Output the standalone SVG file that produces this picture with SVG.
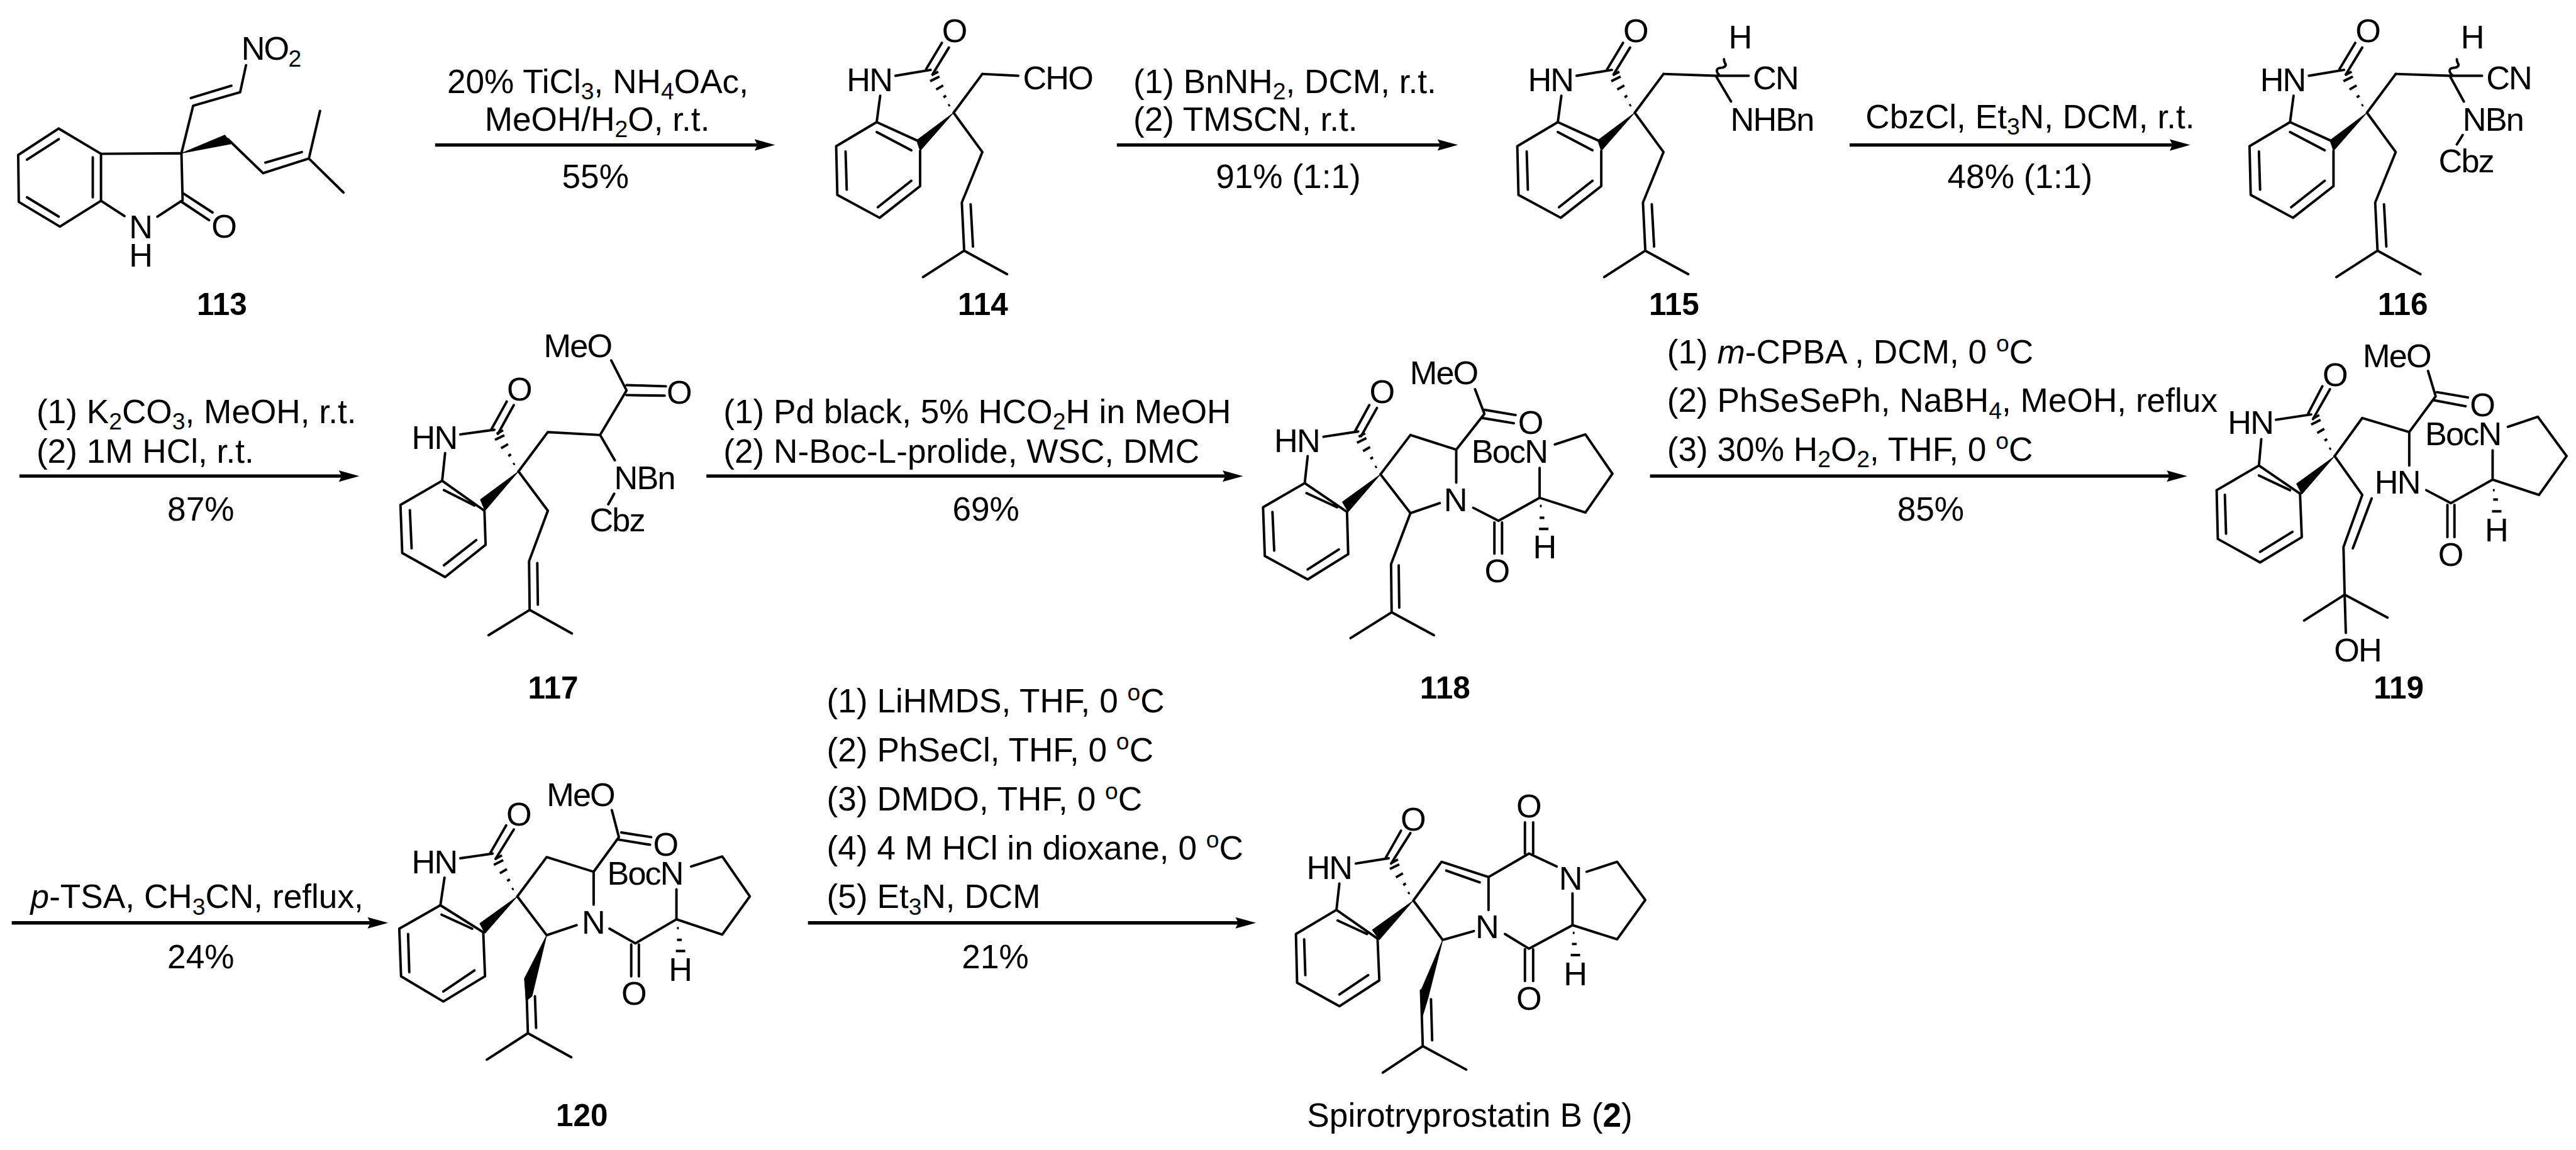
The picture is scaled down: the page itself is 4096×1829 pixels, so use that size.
<svg xmlns="http://www.w3.org/2000/svg" xmlns:xlink="http://www.w3.org/1999/xlink" width="4096" height="1829" viewBox="0 0 4096 1829">
<style>
text{font-family:"Liberation Sans",Arial,sans-serif;fill:#000}
.a{font-size:56px;letter-spacing:-2px}
.m{font-size:56px;text-anchor:middle}
.r{font-size:57px}
.c{font-size:57px;text-anchor:middle}
.n{font-size:53px;font-weight:bold;text-anchor:middle}
.s{font-size:40px;letter-spacing:0}
.b{fill:none;stroke:#000;stroke-width:4.2;stroke-linejoin:round;stroke-linecap:round}
.h{fill:none;stroke:#000;stroke-width:4.2}
.w{fill:#000;stroke:#000;stroke-width:1;stroke-linejoin:round}
.ar{fill:none;stroke:#000;stroke-width:5.7;marker-end:url(#arr)}
</style>
<defs>
<marker id="arr" markerUnits="userSpaceOnUse" markerWidth="40" markerHeight="24" viewBox="0 -12 40 24" refX="5" refY="0" orient="auto"><path d="M0-9.7L35 0L0 9.7L5 0Z" fill="#000"/></marker>
<path id="hash" class="h" d="M-9-11.9L-6.4-13.5M-17.2-26.2L-12.8-29.2M-29.7-39.5L-17.7-46.5M-40-53.7L-24-61.7M-37.2-64L-26.2-70"/>
<path id="wavy" class="b" d="M0 0c-3-3-5-6-4-9c1-4 6-3 10-4c5-2 6-4 4-7c-2-3-2-4-2-7"/>
<g id="core">
<path class="b" d="M2727 257L2727 317L2658 371L2586 332L2584 249L2653 208L2721 239M2653 225L2712 256M2600 258L2602 323M2712 308L2655 353"/>
<path class="b" d="M2659 163L2653 208M2685 129L2745 119M2737 118L2764 73M2748 127L2776 81"/>
<path class="b" d="M2833 126L2784 192L2833 259L2798 345L2802 427L2732 472M2802 427L2875 467M2813 348L2817 420"/>
<polygon class="w" points="2784,192 2721,239 2727,257"/>
<use xlink:href="#hash" href="#hash" transform="translate(2784 192)"/>
<text class="a" x="2602" y="155">HN</text>
<text class="m" x="2786" y="72">O</text>
</g>
</defs>
<g transform="scale(0.93367)">

<g id="connectors">
<path class="ar" d="M741 247H1290"/>
<path class="ar" d="M1902 247H2453"/>
<path class="ar" d="M3150 247H3700"/>
<path class="ar" d="M33 811H582"/>
<path class="ar" d="M1203 811H2087"/>
<path class="ar" d="M2810 811H3695"/>
<path class="ar" d="M20 1572H631"/>
<path class="ar" d="M1376 1572H2109"/>
</g>

<g id="step-1">
<text class="c" x="1018" y="158">20% TiCl<tspan class="s" dy="11">3</tspan><tspan dy="-11">, NH</tspan><tspan class="s" dy="11">4</tspan><tspan dy="-11">OAc,</tspan></text>
<text class="c" x="1017" y="223">MeOH/H<tspan class="s" dy="11">2</tspan><tspan dy="-11">O, r.t.</tspan></text>
<text class="c" x="1014" y="320">55%</text>
</g>
<g id="step-2">
<text class="r" x="1930" y="158">(1) BnNH<tspan class="s" dy="11">2</tspan><tspan dy="-11">, DCM, r.t.</tspan></text>
<text class="r" x="1930" y="223">(2) TMSCN, r.t.</text>
<text class="c" x="2194" y="320">91% (1:1)</text>
</g>
<g id="step-3">
<text class="r" x="3177" y="218">CbzCl, Et<tspan class="s" dy="11">3</tspan><tspan dy="-11">N, DCM, r.t.</tspan></text>
<text class="c" x="3440" y="320">48% (1:1)</text>
</g>
<g id="step-4">
<text class="r" x="62" y="721">(1) K<tspan class="s" dy="11">2</tspan><tspan dy="-11">CO</tspan><tspan class="s" dy="11">3</tspan><tspan dy="-11">, MeOH, r.t.</tspan></text>
<text class="r" x="62" y="788">(2) 1M HCl, r.t.</text>
<text class="c" x="342" y="887">87%</text>
</g>
<g id="step-5">
<text class="r" x="1232" y="721">(1) Pd black, 5% HCO<tspan class="s" dy="11">2</tspan><tspan dy="-11">H in MeOH</tspan></text>
<text class="r" x="1232" y="788">(2) N-Boc-L-prolide, WSC, DMC</text>
<text class="c" x="1679" y="887">69%</text>
</g>
<g id="step-6">
<text class="r" x="2839" y="619">(1) <tspan font-style="italic">m</tspan>-CPBA , DCM, 0 <tspan class="s" dy="-20">o</tspan><tspan dy="20">C</tspan></text>
<text class="r" x="2839" y="702">(2) PhSeSePh, NaBH<tspan class="s" dy="11">4</tspan><tspan dy="-11">, MeOH, reflux</tspan></text>
<text class="r" x="2839" y="785">(3) 30% H<tspan class="s" dy="11">2</tspan><tspan dy="-11">O</tspan><tspan class="s" dy="11">2</tspan><tspan dy="-11">, THF, 0 </tspan><tspan class="s" dy="-20">o</tspan><tspan dy="20">C</tspan></text>
<text class="c" x="3288" y="887">85%</text>
</g>
<g id="step-7">
<text class="r" x="52" y="1547"><tspan font-style="italic">p</tspan>-TSA, CH<tspan class="s" dy="11">3</tspan><tspan dy="-11">CN, reflux,</tspan></text>
<text class="c" x="342" y="1649">24%</text>
</g>
<g id="step-8">
<text class="r" x="1408" y="1213">(1) LiHMDS, THF, 0 <tspan class="s" dy="-20">o</tspan><tspan dy="20">C</tspan></text>
<text class="r" x="1408" y="1297">(2) PhSeCl, THF, 0 <tspan class="s" dy="-20">o</tspan><tspan dy="20">C</tspan></text>
<text class="r" x="1408" y="1381">(3) DMDO, THF, 0 <tspan class="s" dy="-20">o</tspan><tspan dy="20">C</tspan></text>
<text class="r" x="1408" y="1464">(4) 4 M HCl in dioxane, 0 <tspan class="s" dy="-20">o</tspan><tspan dy="20">C</tspan></text>
<text class="r" x="1408" y="1547">(5) Et<tspan class="s" dy="11">3</tspan><tspan dy="-11">N, DCM</tspan></text>
<text class="c" x="1695" y="1649">21%</text>
</g>

<g id="mol-113">
<path class="b" d="M100 219L31 264L32 344L102 386L172 342L172 262L100 219M158 268L158 336M100 237L46 272M46 336L100 369"/>
<path class="b" d="M172 262L309 261L311 341M172 342L212 368M311 341L268 369M313 330L362 362M308 343L356 375"/>
<path class="b" d="M309 261L329 180L409 157L419 111M325 167L394 146M388 237L448 295L526 270L545 189M526 270L585 328M452 277L514 259"/>
<polygon class="w" points="309,261 383,230 394,245"/>
<text class="a" x="411" y="102">NO<tspan class="s" dy="11">2</tspan></text>
<text class="m" x="240" y="406">N</text>
<text class="m" x="240" y="454">H</text>
<text class="m" x="382" y="405">O</text>
<text class="n" x="378" y="537">113</text>
</g>

<g id="mol-114">
<use xlink:href="#core" href="#core" transform="translate(-1160 0)"/>
<path class="b" d="M1673 126L1734 129"/>
<text class="a" x="1742" y="152">CHO</text>
<text class="n" x="1674" y="537">114</text>
</g>

<g id="mol-115">
<use xlink:href="#core" href="#core"/>
<path class="b" d="M2833 126L2922 129L2978 129M2922 129L2948 173"/>
<use xlink:href="#wavy" href="#wavy" transform="translate(2928 128)"/>
<text class="m" x="2964" y="82">H</text>
<text class="a" x="2985" y="152">CN</text>
<text class="a" x="2947" y="223">NHBn</text>
<text class="n" x="2851" y="537">115</text>
</g>

<g id="mol-116">
<use xlink:href="#core" href="#core" transform="translate(1247 0)"/>
<path class="b" d="M4080 126L4172 129L4227 129M4172 129L4196 173M4194 230L4184 246"/>
<use xlink:href="#wavy" href="#wavy" transform="translate(4176 128)"/>
<text class="m" x="4211" y="82">H</text>
<text class="a" x="4234" y="152">CN</text>
<text class="a" x="4194" y="223">NBn</text>
<text class="a" x="4153" y="293">Cbz</text>
<text class="n" x="4092" y="537">116</text>
</g>

<g id="mol-117">
<path class="b" d="M753 819L682 860L685 942L758 983L827 928L825 870L753 819M756 835L808 861M698 869L701 934M811 920L756 963"/>
<path class="b" d="M758 772L753 819M784 740L842 732M837 731L863 684M848 739L875 690"/>
<path class="b" d="M883 803L933 736L1022 741L1067 665L1041 614M1067 656L1134 658M1067 673L1132 674M1022 741L1047 784M1046 841L1036 859"/>
<path class="b" d="M883 803L933 870L901 956L902 1039L832 1082M902 1039L974 1079M915 959L916 1030"/>
<polygon class="w" points="883,803 818,851 826,870"/>
<use xlink:href="#hash" href="#hash" transform="translate(883 803)"/>
<text class="a" x="701" y="765">HN</text>
<text class="m" x="885" y="682">O</text>
<text class="a" x="926" y="608">MeO</text>
<text class="m" x="1157" y="688">O</text>
<text class="a" x="1046" y="833">NBn</text>
<text class="a" x="1004" y="905">Cbz</text>
<text class="n" x="942" y="1190">117</text>
</g>

<g id="mol-118">
<path class="b" d="M2222 823L2151 864L2154 947L2227 987L2296 944L2294 872L2222 823M2225 840L2277 864M2167 872L2170 938M2280 936L2227 970"/>
<path class="b" d="M2227 777L2222 823M2254 744L2313 735M2308 734L2332 690M2318 743L2345 695"/>
<path class="b" d="M2351 808L2402 741L2480 766L2528 705L2512 663M2528 698L2581 707M2524 712L2578 721M2480 766L2480 822"/>
<path class="b" d="M2351 808L2402 874L2452 857M2509 865L2552 887L2622 848L2700 873L2746 807L2700 740L2648 757M2622 797L2622 848M2545 890L2545 943M2558 890L2558 943"/>
<path class="b" d="M2402 874L2369 961L2370 1043L2300 1087M2370 1043L2442 1082M2382 963L2383 1035"/>
<path class="h" d="M2622.5 862L2625.5 862M2622 882L2630 882M2621 901L2637 901"/>
<polygon class="w" points="2351,808 2286,855 2296,872"/>
<use xlink:href="#hash" href="#hash" transform="translate(2351 808)"/>
<text class="a" x="2170" y="770">HN</text>
<text class="m" x="2354" y="687">O</text>
<text class="a" x="2401" y="654">MeO</text>
<text class="m" x="2607" y="739">O</text>
<text class="a" x="2506" y="788">BocN</text>
<text class="m" x="2479" y="871">N</text>
<text class="m" x="2550" y="992">O</text>
<text class="m" x="2631" y="951">H</text>
<text class="n" x="2461" y="1190">118</text>
</g>

<g id="mol-119">
<path class="b" d="M3847 793L3775 835L3777 918L3849 958L3920 915L3917 841L3847 793M3847 810L3900 835M3789 843L3791 909M3904 906L3849 940"/>
<path class="b" d="M3851 748L3847 793M3876 715L3936 706M3931 704L3955 658M3939 714L3968 663"/>
<path class="b" d="M3976 777L4023 712L4103 736L4148 675L4135 632M4150 668L4203 677M4146 682L4199 692M4103 736L4103 793"/>
<path class="b" d="M4132 835L4174 857L4245 817L4324 843L4371 777L4322 710L4271 727M4245 767L4245 817M4168 860L4168 915M4180 860L4180 915"/>
<path class="b" d="M3976 777L4023 843L3991 932L3993 1013L3924 1057M3993 1013L4066 1052M3993 1013L3995 1078M4039 849L4007 934"/>
<path class="h" d="M4245.5 835L4248.5 835M4246 851L4254 851M4244 871L4260 871"/>
<polygon class="w" points="3976,777 3911,824 3920,842"/>
<use xlink:href="#hash" href="#hash" transform="translate(3976 777)"/>
<text class="a" x="3794" y="739">HN</text>
<text class="m" x="3977" y="658">O</text>
<text class="a" x="4024" y="625">MeO</text>
<text class="m" x="4228" y="709">O</text>
<text class="a" x="4130" y="758">BocN</text>
<text class="a" x="4044" y="841">HN</text>
<text class="m" x="4174" y="964">O</text>
<text class="m" x="4252" y="922">H</text>
<text class="a" x="3975" y="1127">OH</text>
<text class="n" x="4085" y="1190">119</text>
</g>

<g id="mol-120">
<path class="b" d="M750 1542L680 1582L683 1663L755 1706L826 1663L823 1588L750 1542M752 1558L804 1582M695 1591L697 1656M808 1653L755 1689"/>
<path class="b" d="M757 1495L750 1542M784 1462L839 1454M835 1453L862 1406M844 1463L875 1413"/>
<path class="b" d="M881 1527L931 1460L1011 1485L1054 1426L1042 1380M1058 1418L1109 1426M1052 1430L1107 1439M1011 1485L1011 1541"/>
<path class="b" d="M881 1527L931 1593L982 1576M1038 1582L1082 1607L1152 1566L1230 1592L1277 1527L1230 1459L1177 1476M1152 1515L1152 1566M1075 1609L1075 1663M1088 1609L1088 1663"/>
<path class="b" d="M896 1666L899 1760L829 1805M899 1760L973 1801M911 1697L913 1751"/>
<path class="h" d="M1153 1581L1156 1581M1153 1601L1161 1601M1151 1620L1167 1620"/>
<polygon class="w" points="881,1527 817,1573 826,1590"/>
<polygon class="w" points="931,1593 893,1667 896,1705 906,1697"/>
<use xlink:href="#hash" href="#hash" transform="translate(881 1527)"/>
<text class="a" x="701" y="1488">HN</text>
<text class="m" x="884" y="1406">O</text>
<text class="a" x="931" y="1373">MeO</text>
<text class="m" x="1134" y="1458">O</text>
<text class="a" x="1034" y="1507">BocN</text>
<text class="m" x="1011" y="1590">N</text>
<text class="m" x="1080" y="1712">O</text>
<text class="m" x="1159" y="1671">H</text>
<text class="n" x="991" y="1918">120</text>
</g>

<g id="mol-2">
<path class="b" d="M2276 1550L2207 1591L2209 1674L2281 1714L2349 1670L2346 1599L2276 1550M2278 1568L2328 1591M2221 1600L2223 1661M2330 1661L2281 1694"/>
<path class="b" d="M2281 1505L2276 1550M2309 1471L2365 1462M2360 1461L2386 1415M2369 1471L2402 1419"/>
<path class="b" d="M2407 1534L2455 1468L2535 1494L2535 1550M2463 1483L2520 1503M2407 1534L2457 1601L2510 1586M2535 1494L2604 1454L2651 1476M2597 1454L2597 1401M2611 1454L2611 1401"/>
<path class="b" d="M2702 1485L2754 1468L2802 1533L2754 1600L2678 1576L2604 1616L2563 1591M2678 1522L2678 1576M2597 1617L2597 1671M2611 1617L2611 1671"/>
<path class="b" d="M2420 1687L2423 1782L2355 1827M2423 1782L2497 1822M2437 1702L2439 1772"/>
<path class="h" d="M2678.5 1589L2681.5 1589M2677 1608L2685 1608M2675 1627L2691 1627"/>
<polygon class="w" points="2407,1534 2337,1584 2349,1601"/>
<polygon class="w" points="2457,1601 2420,1687 2423,1730 2432,1700"/>
<use xlink:href="#hash" href="#hash" transform="translate(2407 1534)"/>
<text class="a" x="2225" y="1497">HN</text>
<text class="m" x="2407" y="1415">O</text>
<text class="m" x="2604" y="1392">O</text>
<text class="m" x="2675" y="1515">N</text>
<text class="m" x="2533" y="1598">N</text>
<text class="m" x="2604" y="1720">O</text>
<text class="m" x="2683" y="1678">H</text>
<text class="r" x="2226" y="1919">Spirotryprostatin B (<tspan font-weight="bold">2</tspan>)</text>
</g>

</g>
</svg>
